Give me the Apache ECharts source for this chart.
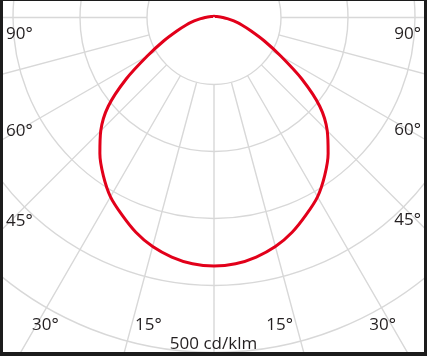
<!DOCTYPE html>
<html>
<head>
<meta charset="utf-8">
<script src="https://cdn.jsdelivr.net/npm/echarts/dist/echarts.min.js"></script>
<style>
  html, body { margin: 0; padding: 0; background: #fff; }
  #wrap { position: relative; width: 427px; height: 356px; }
  #chart { position: absolute; left: 0; top: 0; width: 427px; height: 356px; background: #fff; }
  #frame { position: absolute; left: 0; top: 0; width: 427px; height: 356px; box-sizing: border-box;
           border-style: solid; border-color: #1c1c1c; border-width: 1px 3px 4px 3px; pointer-events: none; z-index: 10; }
</style>
</head>
<body>
<div id="wrap"><div id="chart"></div><div id="frame"></div></div>
<script>
// Luminous intensity distribution (cd/klm), symmetric C-plane, gamma in degrees from nadir
const gammaAngles = [0, 5, 10, 15, 20, 25, 30, 35, 40, 45, 50, 55, 60, 65, 70, 75, 80, 85, 90, 100, 120, 150, 180];
const intensity   = [371, 369, 363, 354, 341, 325, 309, 288, 265, 239, 206, 160, 115, 83, 59, 43, 30, 20, 13, 7, 3, 2, 1];

// Grid scale (cd/klm rings) and angular grid step
const ringValues = [100, 200, 300, 400, 500, 600];
const angleStep = 15;

// Tick labels
const sideLabels = ['90°', '60°', '45°'];
const bottomLabels = ['30°', '15°', '15°', '30°'];
const unitLabel = '500 cd/klm';

// Build the closed curve: left half (gamma 180 -> 0) then right half (gamma 5 -> 180, mirrored)
const curve = [];
for (let i = gammaAngles.length - 1; i >= 0; i--) curve.push([intensity[i], gammaAngles[i]]);
for (let i = 1; i < gammaAngles.length; i++) curve.push([intensity[i], 360 - gammaAngles[i]]);

const CX = 214, CY = 17.5, PX_PER_100 = 67;
const rMin = ringValues[0], rMax = ringValues[ringValues.length - 1];

const gridColor = '#d8d8d8';
const textColor = '#231f20';
const font = '17px "Open Sans", sans-serif';

const chart = echarts.init(document.getElementById('chart'), null, { renderer: 'canvas' });

function txt(text, x, y, align) {
  return { type: 'text', x: x, y: y, silent: true, z: 50,
           style: { text: text, font: font, fill: textColor, align: align, verticalAlign: 'middle' } };
}

chart.setOption({
  animation: false,
  backgroundColor: '#fff',
  polar: [
    { center: [CX, CY], radius: [PX_PER_100 * rMin / 100, PX_PER_100 * rMax / 100] },
    { center: [CX, CY], radius: [0, PX_PER_100 * rMax / 100] }
  ],
  angleAxis: [
    { polarIndex: 0, type: 'value', min: 0, max: 360, interval: angleStep, startAngle: 270, clockwise: true,
      axisLine: { show: false }, axisTick: { show: false }, axisLabel: { show: false },
      splitLine: { show: true, lineStyle: { color: gridColor, width: 1.4 } } },
    { polarIndex: 1, type: 'value', min: 0, max: 360, startAngle: 270, clockwise: true, show: false }
  ],
  radiusAxis: [
    { polarIndex: 0, type: 'value', min: rMin, max: rMax, interval: 100,
      axisLine: { show: false }, axisTick: { show: false }, axisLabel: { show: false },
      splitLine: { show: true, lineStyle: { color: gridColor, width: 1.4 } } },
    { polarIndex: 1, type: 'value', min: 0, max: rMax, show: false }
  ],
  series: [{
    type: 'line',
    coordinateSystem: 'polar',
    polarIndex: 1,
    data: curve,
    smooth: 0.3,
    showSymbol: false,
    symbol: 'none',
    lineStyle: { color: '#e2001a', width: 3 },
    silent: true,
    z: 5
  }],
  graphic: [
    txt(sideLabels[0], 6, 34.5, 'left'),
    txt(sideLabels[1], 6, 131, 'left'),
    txt(sideLabels[2], 6, 221, 'left'),
    txt(sideLabels[0], 421, 34.5, 'right'),
    txt(sideLabels[1], 421, 130.5, 'right'),
    txt(sideLabels[2], 421, 220, 'right'),
    txt(bottomLabels[0], 32, 325, 'left'),
    txt(bottomLabels[1], 135, 325, 'left'),
    txt(bottomLabels[2], 293, 325, 'right'),
    txt(bottomLabels[3], 396, 325, 'right'),
    txt(unitLabel, 213.5, 344.5, 'center')
  ]
});
</script>
</body>
</html>
